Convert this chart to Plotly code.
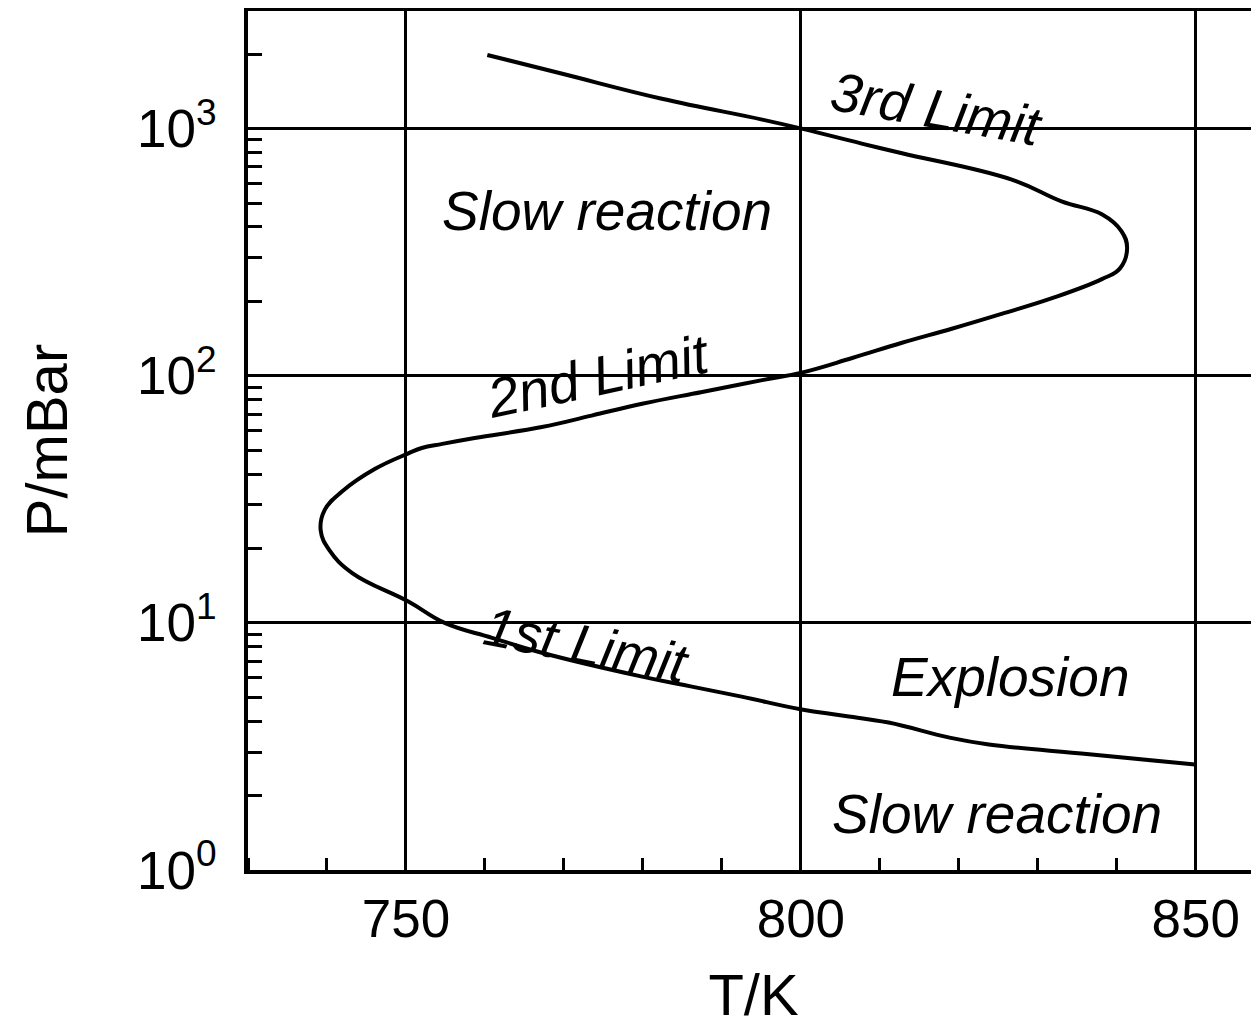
import numpy as np
import plotly.graph_objects as go

# Explosion-limit curve (T in K, P in mbar)
T = [760.3, 769.8, 782.4, 795.1, 800.1, 807.7, 812.8, 826.7, 833.0, 838.1, 840.6, 841.3,
     840.4, 838.1, 831.8, 825.4, 819.1, 812.8, 806.5, 800.1, 795.1, 787.5, 779.9, 773.5,
     767.2, 758.7, 754.6, 752.0, 750.3, 746.1, 741.9, 739.7, 739.2, 740.3, 743.2, 750.3,
     754.9, 760.9, 767.2, 779.9, 786.2, 792.5, 800.1, 805.2, 811.1, 818.7, 823.8, 836.5, 849.9]
P = [1987, 1667, 1321, 1088, 1000, 870, 795, 622, 508, 450, 384, 328,
     272, 246, 206, 178, 155, 136, 118, 103, 96, 86, 77, 69,
     62, 56, 53, 51, 48.5, 42, 34, 28.6, 23.7, 19.7, 15.9, 12.2,
     10.0, 8.7, 7.57, 6.06, 5.52, 5.03, 4.46, 4.22, 3.95, 3.44, 3.22, 2.94, 2.67]

x_ticks = [750, 800, 850]
x_ticklabels = ["750", "800", "850"]
y_ticks = [1, 10, 100, 1000]
y_ticklabels = ["10<sup>0</sup>", "10<sup>1</sup>", "10<sup>2</sup>", "10<sup>3</sup>"]
x_title = "T/K"
y_title = "P/mBar"

# region / curve labels: (text, T, P, angle)
label_text = ["Slow reaction", "3rd Limit", "2nd Limit", "1st Limit", "Explosion", "Slow reaction"]
label_T = [775.4, 817.2, 774.4, 772.9, 826.5, 824.8]
label_P = [463, 1202, 100, 8.15, 6.06, 1.68]
label_angle = [0, 10, -12, 11, 0, 0]

minor_y = [m * 10 ** d for d in range(0, 4) for m in range(2, 10)]

fig = go.Figure()
fig.add_trace(go.Scatter(x=T, y=P, mode="lines",
                         line=dict(color="black", width=4, shape="spline", smoothing=1.2),
                         showlegend=False))

for txt, tx, ty, ang in zip(label_text, label_T, label_P, label_angle):
    fig.add_annotation(x=tx, y=np.log10(ty), xref="x", yref="y", text="<i>" + txt + "</i>",
                       showarrow=False, textangle=ang,
                       font=dict(family="Liberation Sans, Arial", size=55, color="black"))

# the page body adds an 8 px margin, so the figure is sized to fill the rest of the window
fig.update_layout(
    width=1251, height=1019,
    margin=dict(l=240, r=0, t=3, b=157, autoexpand=False),
    paper_bgcolor="white", plot_bgcolor="white",
    font=dict(family="Liberation Sans, Arial", color="black"),
    xaxis=dict(range=[730, 858.0], tickmode="array", tickvals=x_ticks, ticktext=x_ticklabels,
               showgrid=True, gridcolor="black", gridwidth=3,
               showline=True, linecolor="black", linewidth=3.5, mirror=True,
               ticks="", ticklabelstandoff=0, tickfont=dict(size=53),
               minor=dict(ticks="inside", dtick=10, tick0=730, ticklen=12, tickwidth=3,
                          tickcolor="black", showgrid=False),
               title=dict(text=x_title, font=dict(size=58), standoff=53),
               automargin=False, zeroline=False),
    yaxis=dict(type="log", range=[0, 3.476], tickmode="array", tickvals=y_ticks, ticktext=y_ticklabels,
               showgrid=True, gridcolor="black", gridwidth=3,
               showline=True, linecolor="black", linewidth=3.5,
               ticks="", ticklabelstandoff=17, tickfont=dict(size=53),
               minor=dict(ticks="inside", tickmode="array", tickvals=minor_y, ticklen=14, tickwidth=3,
                          tickcolor="black", showgrid=False),
               title=dict(text=y_title, font=dict(size=58), standoff=52),
               automargin=False, zeroline=False),
)

fig.write_html("out.html")
